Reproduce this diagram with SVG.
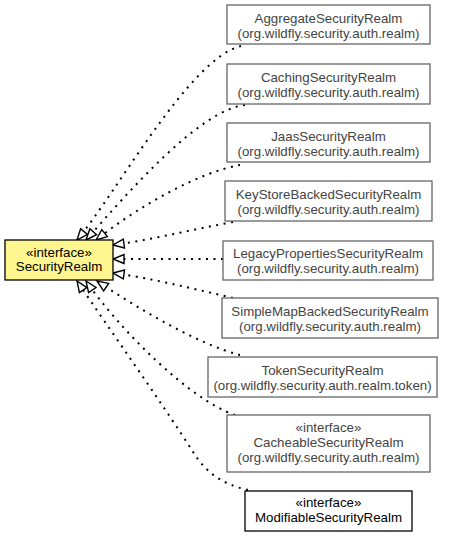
<svg xmlns="http://www.w3.org/2000/svg" width="453" height="536" viewBox="0 0 453 536">
<defs>
<style>
.n rect{fill:#fff;stroke:#666;stroke-width:1.3}
.n text{font-family:"Liberation Sans",Arial,sans-serif;font-size:13.3px;fill:#444;text-anchor:middle}
.m rect{fill:#fff;stroke:#000;stroke-width:1.3}
.m text{fill:#000}
.p rect{fill:#fff68f;stroke:#000;stroke-width:1.3}
.p text{fill:#000}
.e path{fill:none;stroke:#000;stroke-width:2;stroke-dasharray:2,5.5;marker-end:url(#tri)}
</style>
<marker id="tri" markerUnits="userSpaceOnUse" markerWidth="14" markerHeight="12" refX="11" refY="5" orient="auto" overflow="visible">
<path d="M0,0.5 L11,5 L0,9.5 Z" fill="#fff" stroke="#000" stroke-width="1.4" stroke-dasharray="none"/>
</marker>
</defs>
<rect width="453" height="536" fill="#fff"/>
<g id="edges" class="e">
<path d="M241,46 C190,58 117,192 77,240"/>
<path d="M245,105 C200,110 130,190 86,240"/>
<path d="M240,165 C200,172 140,205 96,240"/>
<path d="M233,222 C190,230 150,240 113,245"/>
<path d="M223,259 L113,259"/>
<path d="M233,298 C190,288 150,278 113,273"/>
<path d="M240,355 C200,345 140,310 97,281"/>
<path d="M235,415 C190,400 120,330 86,281"/>
<path d="M248,490 C220,484 205,470 195,455 C160,400 110,330 77,281"/>
</g>
<g id="SecurityRealm" class="n p">
<rect x="5" y="240" width="108" height="40"/>
<text x="59" y="256.5">«interface»</text>
<text x="59" y="271">SecurityRealm</text>
</g>
<g id="AggregateSecurityRealm" class="n">
<rect x="227" y="5" width="203" height="39"/>
<text x="328.5" y="22.5">AggregateSecurityRealm</text>
<text x="328.5" y="37.5">(org.wildfly.security.auth.realm)</text>
</g>
<g id="CachingSecurityRealm" class="n">
<rect x="227" y="64" width="203" height="40"/>
<text x="328.5" y="81.5">CachingSecurityRealm</text>
<text x="328.5" y="96.5">(org.wildfly.security.auth.realm)</text>
</g>
<g id="JaasSecurityRealm" class="n">
<rect x="227" y="123" width="203" height="39"/>
<text x="328.5" y="140.5">JaasSecurityRealm</text>
<text x="328.5" y="155.5">(org.wildfly.security.auth.realm)</text>
</g>
<g id="KeyStoreBackedSecurityRealm" class="n">
<rect x="225" y="181" width="207" height="40"/>
<text x="328.5" y="198.5">KeyStoreBackedSecurityRealm</text>
<text x="328.5" y="213.5">(org.wildfly.security.auth.realm)</text>
</g>
<g id="LegacyPropertiesSecurityRealm" class="n">
<rect x="223" y="241" width="210" height="39"/>
<text x="328" y="258">LegacyPropertiesSecurityRealm</text>
<text x="328" y="273">(org.wildfly.security.auth.realm)</text>
</g>
<g id="SimpleMapBackedSecurityRealm" class="n">
<rect x="222" y="298" width="216" height="40"/>
<text x="330" y="315.5">SimpleMapBackedSecurityRealm</text>
<text x="330" y="330.5">(org.wildfly.security.auth.realm)</text>
</g>
<g id="TokenSecurityRealm" class="n">
<rect x="208" y="357" width="229" height="40"/>
<text x="322.5" y="374.5">TokenSecurityRealm</text>
<text x="322.5" y="389.5">(org.wildfly.security.auth.realm.token)</text>
</g>
<g id="CacheableSecurityRealm" class="n">
<rect x="227" y="415" width="203" height="57"/>
<text x="328.5" y="432">«interface»</text>
<text x="328.5" y="446.5">CacheableSecurityRealm</text>
<text x="328.5" y="461.5">(org.wildfly.security.auth.realm)</text>
</g>
<g id="ModifiableSecurityRealm" class="n m">
<rect x="245" y="491" width="167" height="40"/>
<text x="328.5" y="506.5">«interface»</text>
<text x="328.5" y="521.5">ModifiableSecurityRealm</text>
</g>
</svg>
